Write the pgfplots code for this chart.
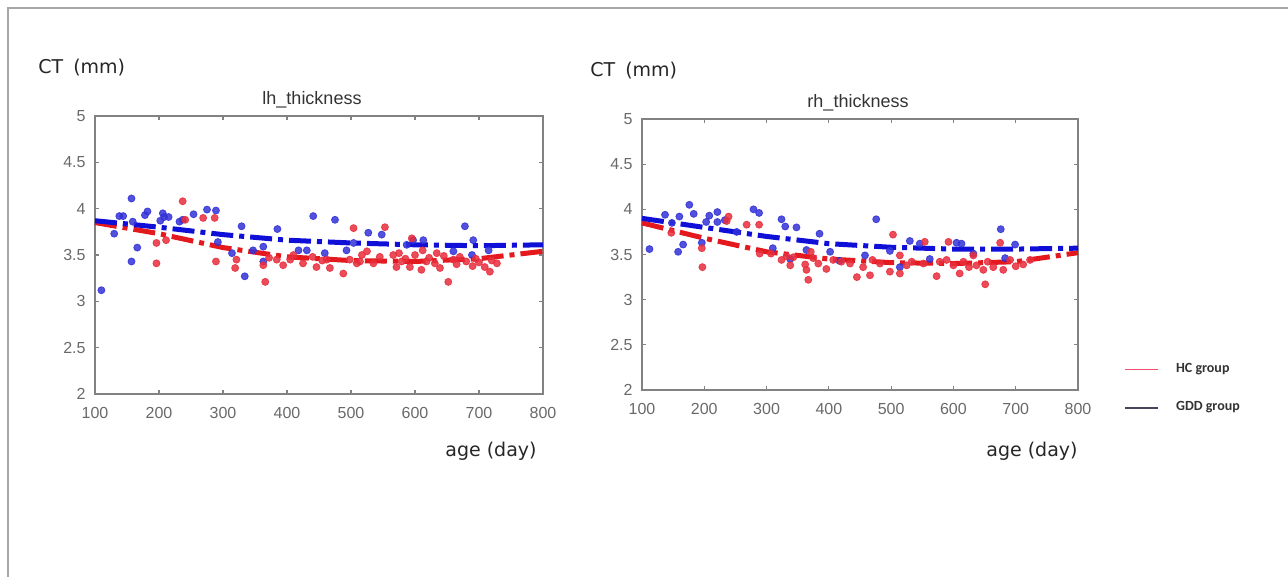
\documentclass[border=0pt]{standalone}
\usepackage{fontspec}
\setmainfont{Liberation Sans}
\newfontfamily\labfont{DejaVu Sans}
\newfontfamily\legfont{Carlito}
\usepackage{pgfplots}
\pgfplotsset{compat=1.18}
\usepackage{pgfplotstable}

\definecolor{axgray}{RGB}{130,130,130}
\definecolor{tickgray}{RGB}{105,105,105}
\definecolor{ptblue}{RGB}{50,50,215}
\definecolor{ptred}{RGB}{232,45,60}
\definecolor{lnblue}{RGB}{15,15,215}
\definecolor{lnred}{RGB}{228,25,30}
\definecolor{leghc}{RGB}{240,80,105}
\definecolor{leggdd}{RGB}{70,70,90}

% left hemisphere
\pgfplotstableread{
x y
110 3.12
130 3.73
138 3.92
144 3.92
157 4.11
159 3.86
157 3.43
166 3.58
178 3.93
182 3.97
202 3.87
206 3.95
208 3.91
215 3.91
232 3.86
237 3.88
254 3.94
275 3.99
289 3.98
292 3.64
314 3.52
329 3.81
334 3.27
347 3.55
363 3.59
363 3.43
385 3.78
418 3.55
431 3.55
441 3.92
459 3.52
475 3.88
493 3.55
504 3.63
527 3.74
548 3.72
587 3.61
597 3.66
613 3.66
660 3.54
678 3.81
689 3.50
691 3.66
715 3.55
}\lhgdd

\pgfplotstableread{
x y
196 3.63
196 3.41
211 3.66
237 4.08
241 3.88
269 3.90
287 3.90
289 3.43
319 3.36
321 3.45
363 3.39
366 3.21
372 3.47
384 3.45
394 3.39
405 3.45
410 3.50
425 3.41
440 3.48
446 3.37
455 3.44
462 3.45
467 3.36
488 3.30
498 3.45
504 3.79
509 3.41
514 3.43
517 3.50
525 3.54
535 3.41
545 3.48
553 3.80
566 3.50
571 3.37
575 3.52
579 3.43
585 3.46
592 3.37
595 3.68
600 3.50
610 3.34
612 3.55
618 3.43
622 3.47
631 3.41
634 3.52
639 3.36
645 3.49
652 3.21
660 3.45
665 3.40
670 3.48
680 3.43
690 3.38
695 3.46
700 3.42
709 3.37
717 3.32
720 3.44
728 3.41
}\lhhc

\pgfplotstableread{
x y
100 3.87
200 3.80
300 3.72
400 3.66
500 3.63
600 3.61
700 3.60
800 3.61
}\lhgddfit

\pgfplotstableread{
x y
100 3.85
200 3.73
300 3.58
400 3.48
500 3.44
600 3.43
700 3.46
800 3.54
}\lhhcfit

% right hemisphere
\pgfplotstableread{
x y
112 3.56
137 3.94
148 3.85
158 3.53
160 3.92
166 3.61
176 4.05
183 3.95
196 3.63
203 3.86
208 3.93
221 3.97
221 3.86
233 3.88
252 3.75
279 4.00
288 3.96
310 3.57
324 3.89
330 3.81
338 3.45
348 3.80
364 3.55
385 3.73
402 3.53
417 3.43
458 3.49
476 3.89
498 3.54
514 3.36
530 3.65
546 3.62
562 3.45
605 3.63
613 3.62
632 3.51
676 3.78
683 3.46
699 3.61
}\rhgdd

\pgfplotstableread{
x y
147 3.74
196 3.57
197 3.36
236 3.87
239 3.92
268 3.83
288 3.83
289 3.51
307 3.51
324 3.44
332 3.48
338 3.38
343 3.47
362 3.39
364 3.33
367 3.22
371 3.53
375 3.46
383 3.40
396 3.34
407 3.44
420 3.42
434 3.40
445 3.25
455 3.36
466 3.27
470 3.44
482 3.40
498 3.31
503 3.72
514 3.29
514 3.49
525 3.38
533 3.42
552 3.40
554 3.64
573 3.26
578 3.42
589 3.44
592 3.64
600 3.38
610 3.29
616 3.42
625 3.36
632 3.49
637 3.38
648 3.33
651 3.17
655 3.42
664 3.36
675 3.63
680 3.33
691 3.44
700 3.37
712 3.39
723 3.44
}\rhhc

\pgfplotstableread{
x y
100 3.90
200 3.80
300 3.70
400 3.62
500 3.58
600 3.56
700 3.56
800 3.57
}\rhgddfit

\pgfplotstableread{
x y
100 3.85
200 3.68
300 3.53
400 3.45
500 3.41
600 3.40
700 3.42
800 3.52
}\rhhcfit

\pgfplotsset{
  myax/.style={
    scale only axis,
    xmin=100, xmax=800, ymin=2, ymax=5,
    xtick={100,200,...,800},
    ytick={2,2.5,3,3.5,4,4.5,5},
    tick align=inside,
    major tick length=2pt,
    axis line style={axgray, line width=0.7pt},
    tick style={axgray, line width=0.6pt},
    ticklabel style={font=\fontsize{8}{9.6}\selectfont, text=tickgray},
    xticklabel style={yshift=-3pt},
    yticklabel style={xshift=-1.2pt},
    /pgf/number format/assume math mode=true,
    clip=false,
  },
  fitline/.style={no marks, line width=2.5pt,
    dash pattern=on 11pt off 3pt on 2.5pt off 3pt},
}

\begin{document}
\begin{tikzpicture}
\path[use as bounding box] (0,0) rectangle (644pt,-288.5pt);
\draw[gray!70, line width=0.6pt] (4pt,-288.5pt) -- (4pt,-4pt) -- (644pt,-4pt);

\begin{axis}[myax, at={(47.5pt,-197pt)}, anchor=south west,
  width=224pt, height=139pt]
  \addplot[only marks, mark=*, mark size=1.75pt, color=ptblue, fill=ptblue, opacity=0.85, forget plot] table {\lhgdd};
  \addplot[only marks, mark=*, mark size=1.75pt, color=ptred, fill=ptred, opacity=0.85, forget plot] table {\lhhc};
  \addplot[fitline, color=lnred, forget plot] table {\lhhcfit};
  \addplot[fitline, color=lnblue, forget plot] table {\lhgddfit};
\end{axis}

\begin{axis}[myax, at={(321pt,-195pt)}, anchor=south west,
  width=218pt, height=135.5pt,
  legend style={draw=none, fill=none, at={(1.092,0.129)}, anchor=north west,
    font=\legfont\bfseries\fontsize{7}{8.4}\selectfont, text=black!80,
    row sep=9pt, /tikz/every odd column/.append style={column sep=6.5pt}},
  legend cell align=left,
  legend image code/.code={\draw[#1] (0pt,0pt) -- (16.5pt,0pt);}]
  \addplot[only marks, mark=*, mark size=1.75pt, color=ptblue, fill=ptblue, opacity=0.85, forget plot] table {\rhgdd};
  \addplot[only marks, mark=*, mark size=1.75pt, color=ptred, fill=ptred, opacity=0.85, forget plot] table {\rhhc};
  \addplot[fitline, color=lnred, forget plot] table {\rhhcfit};
  \addplot[fitline, color=lnblue, forget plot] table {\rhgddfit};
  \addlegendimage{color=leghc, line width=0.8pt}
  \addlegendentry{HC group}
  \addlegendimage{color=leggdd, line width=0.8pt}
  \addlegendentry{GDD group}
\end{axis}

\node[anchor=west, font=\labfont\fontsize{9.5}{11}\selectfont, text=black!85, inner sep=0pt] at (19pt,-34pt) {CT\hspace{2pt} (mm)};
\node[anchor=west, font=\labfont\fontsize{9.5}{11}\selectfont, text=black!85, inner sep=0pt] at (295pt,-35.5pt) {CT\hspace{2pt} (mm)};
\node[font=\fontsize{9}{10.8}\selectfont, text=black!80, inner sep=0pt] at (156pt,-50pt) {lh\_thickness};
\node[font=\fontsize{9}{10.8}\selectfont, text=black!80, inner sep=0pt] at (429pt,-51.5pt) {rh\_thickness};
\node[font=\labfont\fontsize{9.5}{11}\selectfont, text=black!85, inner sep=0pt] at (245.5pt,-225.5pt) {age (day)};
\node[font=\labfont\fontsize{9.5}{11}\selectfont, text=black!85, inner sep=0pt] at (516pt,-225.5pt) {age (day)};
\end{tikzpicture}
\end{document}
